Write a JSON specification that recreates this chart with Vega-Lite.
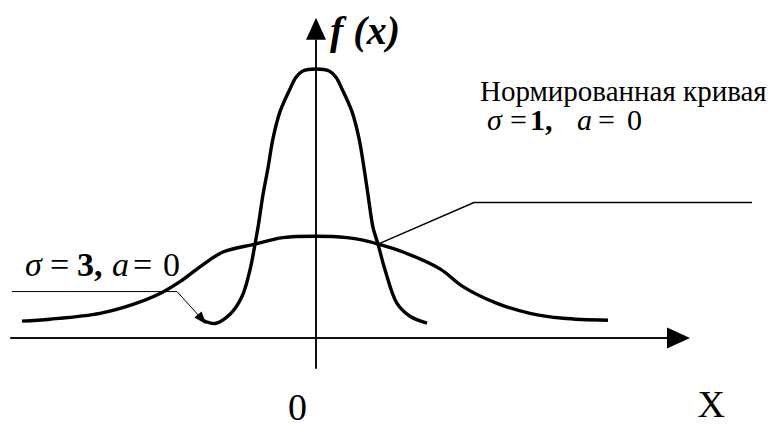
{
  "$schema": "https://vega.github.io/schema/vega-lite/v6.json",
  "width": 774,
  "height": 428,
  "padding": 0,
  "autosize": {"type": "fit", "contains": "padding"},
  "background": "white",
  "config": {"view": {"stroke": null}, "text": {"font": "Times New Roman"}},
  "encoding": {
    "x": {"field": "x", "type": "quantitative", "axis": null, "scale": {"domain": [-7.1818, 10.4091], "nice": false, "zero": false}},
    "y": {"field": "y", "type": "quantitative", "axis": null, "scale": {"domain": [-0.12573, 0.5], "nice": false, "zero": false}}
  },
  "layer": [
    {
      "data": {"values": [
        {"x": -6.95, "x2": 8.05, "y": 0, "y2": 0},
        {"x": 0, "x2": 0, "y": -0.0453, "y2": 0.4415}
      ]},
      "mark": {"type": "rule", "stroke": "#111", "strokeWidth": 2},
      "encoding": {"x2": {"field": "x2"}, "y2": {"field": "y2"}}
    },
    {
      "data": {"values": [{"x": 0, "y": 0.4576}]},
      "mark": {"type": "point", "shape": "M0,-1L-0.909,1L0.909,1Z", "size": 484, "filled": true, "color": "black", "opacity": 1}
    },
    {
      "data": {"values": [{"x": 8.239, "y": 0}]},
      "mark": {"type": "point", "shape": "M1,0L-1,-0.913L-1,0.913Z", "size": 529, "filled": true, "color": "black", "opacity": 1}
    },
    {
      "data": {"values": [
        {"x": -6.682, "y": 0.0249}, {"x": -6.045, "y": 0.0278}, {"x": -4.909, "y": 0.0365},
        {"x": -4.159, "y": 0.0497}, {"x": -3.545, "y": 0.0658}, {"x": -3.091, "y": 0.0833},
        {"x": -2.636, "y": 0.1053}, {"x": -2.114, "y": 0.1272}, {"x": -1.386, "y": 0.1389},
        {"x": -0.75, "y": 0.1485}, {"x": 0, "y": 0.1506}, {"x": 0.705, "y": 0.1485},
        {"x": 1.068, "y": 0.1447}, {"x": 1.409, "y": 0.1389}, {"x": 1.977, "y": 0.1272},
        {"x": 2.818, "y": 0.1023}, {"x": 3.341, "y": 0.076}, {"x": 4.114, "y": 0.0512},
        {"x": 4.864, "y": 0.0365}, {"x": 5.614, "y": 0.0292}, {"x": 6.636, "y": 0.0263}
      ]},
      "mark": {"type": "line", "color": "black", "strokeWidth": 3.4, "interpolate": "catmull-rom"}
    },
    {
      "data": {"values": [
        {"x": -2.57, "y": 0.0263}, {"x": -2.295, "y": 0.0215}, {"x": -1.955, "y": 0.0351},
        {"x": -1.682, "y": 0.0614}, {"x": -1.5, "y": 0.1009}, {"x": -1.386, "y": 0.1389},
        {"x": -1.318, "y": 0.1637}, {"x": -1.205, "y": 0.212}, {"x": -1.091, "y": 0.2515},
        {"x": -0.977, "y": 0.2953}, {"x": -0.818, "y": 0.3348}, {"x": -0.591, "y": 0.3684},
        {"x": -0.45, "y": 0.386}, {"x": -0.3, "y": 0.395}, {"x": 0, "y": 0.398}, {"x": 0.3, "y": 0.395},
        {"x": 0.45, "y": 0.386},
        {"x": 0.591, "y": 0.3684}, {"x": 0.818, "y": 0.3348}, {"x": 0.977, "y": 0.2953},
        {"x": 1.091, "y": 0.2515}, {"x": 1.182, "y": 0.212}, {"x": 1.295, "y": 0.1637},
        {"x": 1.409, "y": 0.1389}, {"x": 1.568, "y": 0.1009}, {"x": 1.841, "y": 0.0512},
        {"x": 2.136, "y": 0.0322}, {"x": 2.523, "y": 0.0219}
      ]},
      "mark": {"type": "line", "color": "black", "strokeWidth": 3.4, "interpolate": "catmull-rom"}
    },
    {
      "data": {"values": [
        {"x": 1.409, "y": 0.1389, "o": 1}, {"x": 3.591, "y": 0.2003, "o": 2}, {"x": 9.909, "y": 0.2003, "o": 3}
      ]},
      "mark": {"type": "line", "color": "black", "strokeWidth": 1.5},
      "encoding": {"order": {"field": "o"}}
    },
    {
      "data": {"values": [
        {"x": -6.909, "y": 0.0687, "o": 1}, {"x": -3.159, "y": 0.0687, "o": 2}, {"x": -2.62, "y": 0.03, "o": 3}
      ]},
      "mark": {"type": "line", "color": "black", "strokeWidth": 1},
      "encoding": {"order": {"field": "o"}}
    },
    {
      "data": {"values": [{"x": -2.59, "y": 0.0275}]},
      "mark": {"type": "point", "shape": "M1,0L-1,-0.75L-1,0.75Z", "size": 160, "angle": 50, "filled": true, "color": "black", "opacity": 1}
    },
    {
      "data": {"values": [{"x": 0.318, "y": 0.4342, "label": "f (x)"}]},
      "mark": {"type": "text", "align": "left", "baseline": "alphabetic", "fontSize": 40, "fontStyle": "italic", "fontWeight": "bold", "color": "black"},
      "encoding": {"text": {"field": "label"}}
    },
    {
      "data": {"values": [{"x": 3.727, "y": 0.3509, "label": "Нормированная кривая"}]},
      "mark": {"type": "text", "align": "left", "baseline": "alphabetic", "fontSize": 29, "color": "black"},
      "encoding": {"text": {"field": "label"}}
    },
    {
      "data": {"values": [{"x": 3.886, "y": 0.307, "label": "σ"}, {"x": 5.932, "y": 0.307, "label": "a"}]},
      "mark": {"type": "text", "align": "left", "baseline": "alphabetic", "fontSize": 30, "fontStyle": "italic", "color": "black"},
      "encoding": {"text": {"field": "label"}}
    },
    {
      "data": {"values": [{"x": 4.864, "y": 0.307, "label": "1,"}]},
      "mark": {"type": "text", "align": "left", "baseline": "alphabetic", "fontSize": 30, "fontWeight": "bold", "color": "black"},
      "encoding": {"text": {"field": "label"}}
    },
    {
      "data": {"values": [{"x": 4.409, "y": 0.307, "label": "="}, {"x": 6.409, "y": 0.307, "label": "="}, {"x": 7.068, "y": 0.307, "label": "0"}]},
      "mark": {"type": "text", "align": "left", "baseline": "alphabetic", "fontSize": 30, "color": "black"},
      "encoding": {"text": {"field": "label"}}
    },
    {
      "data": {"values": [{"x": -6.614, "y": 0.0921, "label": "σ"}, {"x": -4.636, "y": 0.0921, "label": "a"}]},
      "mark": {"type": "text", "align": "left", "baseline": "alphabetic", "fontSize": 34, "fontStyle": "italic", "color": "black"},
      "encoding": {"text": {"field": "label"}}
    },
    {
      "data": {"values": [{"x": -5.432, "y": 0.0921, "label": "3,"}]},
      "mark": {"type": "text", "align": "left", "baseline": "alphabetic", "fontSize": 34, "fontWeight": "bold", "color": "black"},
      "encoding": {"text": {"field": "label"}}
    },
    {
      "data": {"values": [{"x": -6.045, "y": 0.0921, "label": "="}, {"x": -4.159, "y": 0.0921, "label": "="}, {"x": -3.477, "y": 0.0921, "label": "0"}]},
      "mark": {"type": "text", "align": "left", "baseline": "alphabetic", "fontSize": 34, "color": "black"},
      "encoding": {"text": {"field": "label"}}
    },
    {
      "data": {"values": [{"x": -0.42, "y": -0.1213, "label": "0"}, {"x": 8.98, "y": -0.117, "label": "X"}]},
      "mark": {"type": "text", "align": "center", "baseline": "alphabetic", "fontSize": 38, "color": "black"},
      "encoding": {"text": {"field": "label"}}
    }
  ]
}
